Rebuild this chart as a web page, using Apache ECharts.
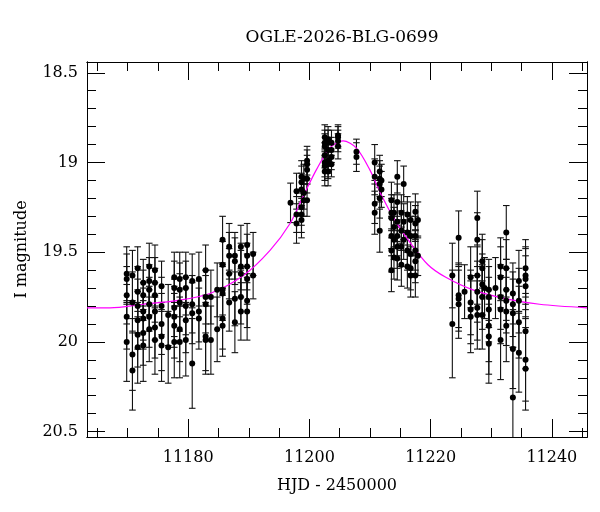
<!DOCTYPE html>
<html>
<head>
<meta charset="utf-8">
<script src="https://cdn.jsdelivr.net/npm/echarts@6/dist/echarts.min.js"></script>
<style>
  html, body { margin: 0; padding: 0; background: #fff; }
  #chart { width: 600px; height: 512px; }
</style>
</head>
<body>
<div id="chart"></div>
<script>
// ---------------- DATA ----------------
const chartTitle = 'OGLE-2026-BLG-0699';
const xTitle = 'HJD - 2450000';
const yTitle = 'I magnitude';

const xRange = [11163.3, 11245.8];
const yRange = [18.44, 20.53];

const xMajorTicks = [11180, 11200, 11220, 11240];
const xMinorTicks = [11165, 11170, 11175, 11180, 11185, 11190, 11195, 11200, 11205, 11210, 11215, 11220, 11225, 11230, 11235, 11240, 11245];
const yMajorTicks = [18.5, 19, 19.5, 20, 20.5];
const yMinorTicks = [18.5, 18.6, 18.7, 18.8, 18.9, 19, 19.1, 19.2, 19.3, 19.4, 19.5, 19.6, 19.7, 19.8, 19.9, 20, 20.1, 20.2, 20.3, 20.4, 20.5];

// observation nights (HJD - 2450000)
const nightHjd = [
  11169.85, 11170.8, 11171.66, 11172.58, 11173.57, 11174.51, 11175.6, 11176.7, 11177.7, 11178.6, 11179.6,
  11180.66, 11181.76, 11182.87, 11183.74, 11184.78, 11185.67, 11186.76, 11187.7, 11188.69, 11189.72, 11190.71,
  11196.88, 11197.87, 11198.69, 11199.07, 11199.61, 11202.53, 11203.08, 11203.64, 11204.72, 11207.76,
  11210.77, 11211.6, 11211.88, 11213.53, 11213.95, 11214.5, 11215.17, 11215.55, 11216.16, 11216.7, 11217.48, 11217.9,
  11223.58, 11224.62, 11225.6, 11226.6, 11227.7, 11228.52, 11228.9, 11229.6, 11230.7, 11231.54, 11232.48, 11233.57, 11234.56, 11235.66
];
// I magnitudes measured on each night
const nightMag = [
  [19.62, 19.65, 19.74, 19.86, 20.00],
  [19.63, 19.78, 20.07, 20.16],
  [19.59, 19.72, 19.80, 19.88, 19.96, 20.03],
  [19.67, 19.74, 19.83, 19.87, 19.95, 20.02],
  [19.58, 19.66, 19.71, 19.79, 19.86, 19.93],
  [19.60, 19.67, 19.74, 19.83, 19.92, 19.99],
  [19.69, 19.80, 19.90, 19.97, 20.02],
  [19.85, 20.03],
  [19.64, 19.70, 19.81, 19.86, 19.91, 20.00],
  [19.65, 19.71, 19.78, 19.93, 20.00],
  [19.64, 19.70, 19.80, 19.88, 19.99],
  [19.66, 19.79, 19.84, 20.12],
  [19.65, 19.83, 19.87],
  [19.60, 19.75, 19.79, 19.97, 19.99],
  [19.75, 19.99],
  [19.71, 19.93],
  [19.43, 19.57, 19.71, 19.73, 19.87, 19.91],
  [19.47, 19.52, 19.62, 19.78],
  [19.52, 19.55, 19.76, 19.89],
  [19.47, 19.58, 19.62, 19.75, 19.83],
  [19.46, 19.52, 19.58, 19.65, 19.77, 19.83],
  [19.51, 19.63],
  [19.225],
  [19.16, 19.29, 19.34],
  [19.08, 19.11, 19.15, 19.25, 19.29, 19.32],
  [19.09, 19.17, 19.21],
  [18.99, 19.01, 19.04, 19.09, 19.21],
  [18.86, 18.89, 18.91, 18.96, 19.00, 19.02, 19.05],
  [18.87, 18.89, 18.93, 18.99, 19.01, 19.05],
  [18.89, 18.93, 18.97, 19.01],
  [18.85, 18.86, 18.88, 18.91],
  [18.94, 18.97],
  [19.00, 19.08, 19.23, 19.28],
  [19.05, 19.09, 19.12, 19.20, 19.38],
  [19.10, 19.15],
  [19.21, 19.28, 19.31, 19.41, 19.49, 19.60],
  [19.28, 19.36, 19.43, 19.53],
  [19.08, 19.22, 19.33, 19.41, 19.47, 19.535],
  [19.28, 19.38, 19.47, 19.57],
  [19.12, 19.33, 19.43],
  [19.29, 19.39, 19.49, 19.58],
  [19.32, 19.41, 19.51, 19.59, 19.63],
  [19.275, 19.34, 19.41, 19.49, 19.55, 19.63],
  [19.32, 19.52],
  [19.63, 19.90],
  [19.42, 19.74, 19.76, 19.79],
  [19.72],
  [19.64, 19.78, 19.82, 19.86],
  [19.31, 19.43, 19.63, 19.72, 19.81, 19.85],
  [19.55, 19.59, 19.68, 19.75, 19.85],
  [19.70],
  [19.71, 19.75, 19.82, 19.91, 19.97, 20.01],
  [19.70],
  [19.58, 19.64, 19.75, 19.82, 19.99],
  [19.39, 19.59, 19.71, 19.77, 19.83, 19.91],
  [19.73, 19.79, 19.84, 20.04, 20.31],
  [19.66, 19.77, 19.89, 20.06],
  [19.59, 19.63, 19.65, 19.69, 19.94, 20.10, 20.15]
];
// photometric errors (mag) for each measurement above
const nightErr = [
  [0.15, 0.14, 0.16, 0.18, 0.22],
  [0.14, 0.17, 0.20, 0.22],
  [0.12, 0.14, 0.15, 0.16, 0.18, 0.20],
  [0.13, 0.14, 0.16, 0.17, 0.18, 0.20],
  [0.13, 0.13, 0.14, 0.15, 0.17, 0.18],
  [0.14, 0.14, 0.15, 0.16, 0.17, 0.19],
  [0.14, 0.16, 0.17, 0.19, 0.20],
  [0.17, 0.20],
  [0.14, 0.15, 0.16, 0.17, 0.18, 0.20],
  [0.15, 0.15, 0.16, 0.18, 0.20],
  [0.14, 0.15, 0.16, 0.18, 0.20],
  [0.15, 0.16, 0.17, 0.25],
  [0.15, 0.17, 0.17],
  [0.14, 0.15, 0.16, 0.19, 0.19],
  [0.15, 0.19],
  [0.15, 0.18],
  [0.13, 0.13, 0.14, 0.15, 0.17, 0.17],
  [0.13, 0.13, 0.14, 0.16],
  [0.13, 0.13, 0.15, 0.17],
  [0.12, 0.13, 0.13, 0.15, 0.16],
  [0.12, 0.12, 0.13, 0.14, 0.15, 0.16],
  [0.12, 0.13],
  [0.11],
  [0.10, 0.10, 0.11],
  [0.09, 0.09, 0.09, 0.10, 0.10, 0.10],
  [0.08, 0.09, 0.09],
  [0.08, 0.08, 0.08, 0.08, 0.09],
  [0.07, 0.07, 0.07, 0.07, 0.08, 0.08, 0.08],
  [0.07, 0.07, 0.07, 0.07, 0.08, 0.08],
  [0.07, 0.07, 0.07, 0.07],
  [0.06, 0.06, 0.06, 0.07],
  [0.07, 0.08],
  [0.10, 0.10, 0.11, 0.12],
  [0.09, 0.10, 0.10, 0.11, 0.12],
  [0.09, 0.10],
  [0.10, 0.10, 0.11, 0.11, 0.12, 0.12],
  [0.10, 0.11, 0.11, 0.12],
  [0.09, 0.10, 0.11, 0.11, 0.12, 0.12],
  [0.10, 0.11, 0.11, 0.12],
  [0.10, 0.10, 0.11],
  [0.10, 0.11, 0.11, 0.12],
  [0.10, 0.11, 0.11, 0.12, 0.12],
  [0.10, 0.10, 0.11, 0.11, 0.12, 0.12],
  [0.10, 0.11],
  [0.18, 0.30],
  [0.15, 0.18, 0.18, 0.19],
  [0.15],
  [0.17, 0.18, 0.19, 0.20],
  [0.15, 0.15, 0.16, 0.17, 0.18, 0.19],
  [0.15, 0.16, 0.17, 0.18, 0.19],
  [0.17],
  [0.17, 0.17, 0.18, 0.20, 0.21, 0.22],
  [0.17],
  [0.16, 0.17, 0.18, 0.19, 0.22],
  [0.15, 0.16, 0.17, 0.18, 0.19, 0.20],
  [0.17, 0.18, 0.19, 0.22, 0.28],
  [0.17, 0.18, 0.20, 0.22],
  [0.16, 0.16, 0.17, 0.17, 0.21, 0.23, 0.23]
];

// microlensing model curve
const modelHjd = [11163.3, 11167.1, 11172.6, 11178.1, 11183.6, 11189.1, 11193.5, 11196.8, 11198.95, 11201.16, 11203.36, 11205.55, 11207.76, 11209.95, 11212.0, 11214.07, 11216.26, 11219.56, 11222.5, 11226.98, 11232.48, 11237.97, 11245.8];
const modelMag = [19.81, 19.81, 19.79, 19.77, 19.73, 19.63, 19.49, 19.34, 19.19, 19.04, 18.92, 18.88, 18.92, 19.04, 19.19, 19.32, 19.43, 19.57, 19.64, 19.71, 19.76, 19.79, 19.81];

// ---------------- CHART ----------------
const FONT = 'DejaVu Serif';
const points = [];
nightHjd.forEach((t, i) => {
  nightMag[i].forEach((m, j) => points.push([t, m, nightErr[i][j]]));
});
const modelLine = modelHjd.map((t, i) => [t, modelMag[i]]);

function xAxisDef(pos, ticks, len, labels) {
  return {
    type: 'value', position: pos, min: xRange[0], max: xRange[1],
    axisLine: { show: true, onZero: false, lineStyle: { color: '#000', width: 1 } },
    axisTick: { show: true, inside: true, length: len, customValues: ticks, lineStyle: { color: '#000', width: 1 } },
    axisLabel: labels ? { show: true, customValues: xMajorTicks, margin: 13, color: '#000', fontFamily: FONT, fontSize: 16, formatter: v => String(v) } : { show: false },
    splitLine: { show: false },
    name: labels ? xTitle : '',
    nameLocation: 'middle', nameGap: 41,
    nameTextStyle: { color: '#000', fontFamily: FONT, fontSize: 16 }
  };
}
function yAxisDef(pos, ticks, len, labels) {
  return {
    type: 'value', position: pos, min: yRange[0], max: yRange[1], inverse: true,
    axisLine: { show: true, onZero: false, lineStyle: { color: '#000', width: 1 } },
    axisTick: { show: true, inside: true, length: len, customValues: ticks, lineStyle: { color: '#000', width: 1 } },
    axisLabel: labels ? { show: true, customValues: yMajorTicks, margin: 9, color: '#000', fontFamily: FONT, fontSize: 16, formatter: v => String(v) } : { show: false },
    splitLine: { show: false },
    name: labels ? yTitle : '',
    nameLocation: 'middle', nameGap: 57, nameRotate: 90,
    nameTextStyle: { color: '#000', fontFamily: FONT, fontSize: 16 }
  };
}

const chart = echarts.init(document.getElementById('chart'), null, { renderer: 'canvas' });
chart.setOption({
  backgroundColor: '#fff',
  animation: false,
  title: {
    text: chartTitle, left: 337, top: 24, textAlign: 'center',
    textStyle: { color: '#000', fontFamily: FONT, fontSize: 17, fontWeight: 'normal' }
  },
  grid: { left: 87, right: 13, top: 62, bottom: 75, containLabel: false },
  xAxis: [
    xAxisDef('bottom', xMajorTicks, 18, true),
    xAxisDef('bottom', xMinorTicks, 9, false),
    xAxisDef('top', xMajorTicks, 18, false),
    xAxisDef('top', xMinorTicks, 9, false)
  ],
  yAxis: [
    yAxisDef('left', yMajorTicks, 18, true),
    yAxisDef('left', yMinorTicks, 9, false),
    yAxisDef('right', yMajorTicks, 18, false),
    yAxisDef('right', yMinorTicks, 9, false)
  ],
  series: [
    {
      type: 'custom', name: 'errors', xAxisIndex: 0, yAxisIndex: 0, clip: true,
      data: points,
      encode: { x: 0, y: 1 },
      renderItem: function (params, api) {
        const t = api.value(0), m = api.value(1), e = api.value(2);
        const p1 = api.coord([t, m - e]);
        const p2 = api.coord([t, m + e]);
        const w = 3.3;
        const st = { stroke: '#111', lineWidth: 1.1 };
        return {
          type: 'group',
          children: [
            { type: 'line', shape: { x1: p1[0], y1: p1[1], x2: p2[0], y2: p2[1] }, style: st },
            { type: 'line', shape: { x1: p1[0] - w, y1: p1[1], x2: p1[0] + w, y2: p1[1] }, style: st },
            { type: 'line', shape: { x1: p2[0] - w, y1: p2[1], x2: p2[0] + w, y2: p2[1] }, style: st }
          ]
        };
      },
      z: 2
    },
    {
      type: 'line', name: 'model', xAxisIndex: 0, yAxisIndex: 0,
      data: modelLine, showSymbol: false, smooth: 0.3,
      lineStyle: { color: '#ff00ff', width: 1.2 }, z: 3
    },
    {
      type: 'scatter', name: 'data', xAxisIndex: 0, yAxisIndex: 0,
      data: points.map(p => [p[0], p[1]]),
      symbol: 'circle', symbolSize: 6,
      itemStyle: { color: '#000', opacity: 1 }, z: 4
    }
  ]
});
</script>
</body>
</html>
